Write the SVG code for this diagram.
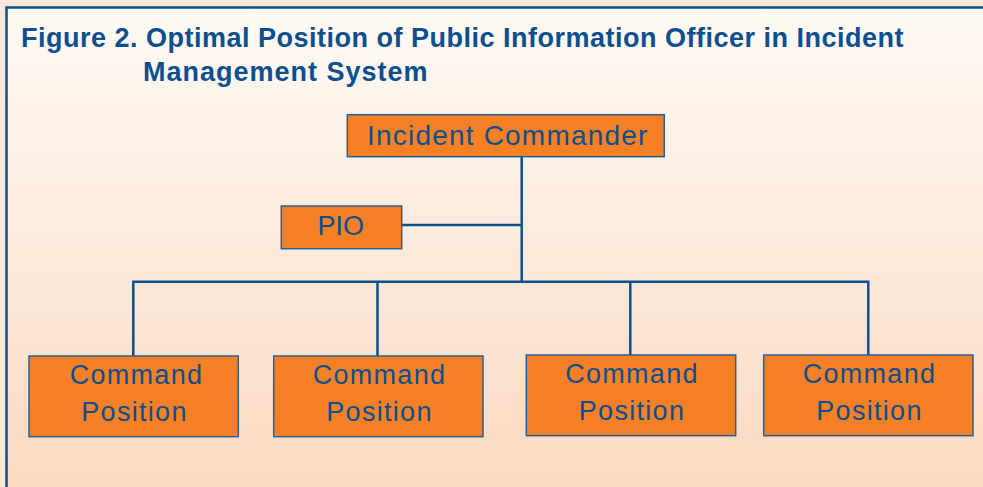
<svg xmlns="http://www.w3.org/2000/svg" width="983" height="487" viewBox="0 0 983 487">
<defs>
<linearGradient id="bg" x1="0" y1="0" x2="0" y2="1">
<stop offset="0" stop-color="#fffaf5"/>
<stop offset="0.5" stop-color="#fdeadb"/>
<stop offset="1" stop-color="#fbd9c0"/>
</linearGradient>
<style>
.box{fill:#f58025;stroke:#2a5f96;stroke-width:1.5}
.lbl{font-family:"Liberation Sans",Arial,sans-serif;fill:#0b4f8f;text-anchor:middle}
.conn{stroke:#0b4f8f;stroke-width:2.5;fill:none}
.title{font-family:"Liberation Sans",Arial,sans-serif;font-weight:bold;fill:#0b4f8f;font-size:27px;letter-spacing:0.5px}
</style>
</defs>
<rect x="0" y="0" width="983" height="487" fill="#fbe8d8"/>
<rect x="6.5" y="7.5" width="990" height="490" fill="url(#bg)" stroke="#0b4f8f" stroke-width="2.5"/>
<text class="title" x="21" y="47">Figure 2. Optimal Position of Public Information Officer in Incident</text>
<text class="title" x="143" y="81" style="letter-spacing:1px">Management System</text>
<g id="connectors">
<path class="conn" d="M521.7 157V282"/>
<path class="conn" d="M401.7 225H521.7"/>
<path class="conn" d="M133.3 356V281.7H868.3V355"/>
<path class="conn" d="M377.5 281.7V356"/>
<path class="conn" d="M630.3 281.7V355"/>
</g>
<g id="incident-commander">
<rect class="box" x="347.3" y="114.7" width="317" height="42"/>
<text class="lbl" x="507.8" y="145" font-size="28" letter-spacing="1.2">Incident Commander</text>
</g>
<g id="pio">
<rect class="box" x="281.3" y="206" width="120.4" height="42.7"/>
<text class="lbl" x="340.8" y="235" font-size="27">PIO</text>
</g>
<g id="cp1">
<rect class="box" x="29" y="356" width="209.3" height="80.7"/>
<text class="lbl" x="136.5" y="384" font-size="27" letter-spacing="1.3">Command</text>
<text class="lbl" x="134.5" y="421" font-size="27" letter-spacing="1.3">Position</text>
</g>
<g id="cp2">
<rect class="box" x="273.7" y="356" width="209.3" height="80.7"/>
<text class="lbl" x="379.5" y="384" font-size="27" letter-spacing="1.3">Command</text>
<text class="lbl" x="379.5" y="421" font-size="27" letter-spacing="1.3">Position</text>
</g>
<g id="cp3">
<rect class="box" x="526.3" y="355" width="209.4" height="80.7"/>
<text class="lbl" x="632" y="383" font-size="27" letter-spacing="1.3">Command</text>
<text class="lbl" x="632" y="420" font-size="27" letter-spacing="1.3">Position</text>
</g>
<g id="cp4">
<rect class="box" x="763.7" y="355" width="209.3" height="80.7"/>
<text class="lbl" x="869.5" y="383" font-size="27" letter-spacing="1.3">Command</text>
<text class="lbl" x="869.5" y="420" font-size="27" letter-spacing="1.3">Position</text>
</g>
</svg>
